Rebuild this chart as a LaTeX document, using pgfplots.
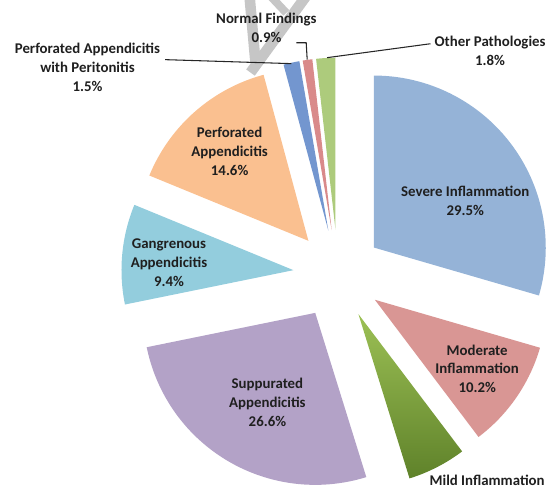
\documentclass[border=0pt]{standalone}
\usepackage{fontspec}
\setmainfont{Carlito}
\usepackage{pgfplots}
\pgfplotsset{compat=1.18}
\definecolor{cSev}{HTML}{95B3D7}
\definecolor{cMod}{HTML}{D99694}
\definecolor{cMildA}{HTML}{9CC055}
\definecolor{cMildB}{HTML}{5F822A}
\definecolor{cSup}{HTML}{B3A2C7}
\definecolor{cGan}{HTML}{93CDDD}
\definecolor{cPerf}{HTML}{FAC090}
\definecolor{cPP}{HTML}{7396CF}
\definecolor{cNorm}{HTML}{D98A8A}
\definecolor{cOth}{HTML}{ADCB7C}
\definecolor{wm}{HTML}{C6C6C6}
\tikzset{
  sSev/.style={fill=cSev},
  sMod/.style={fill=cMod},
  sMild/.style={top color=cMildA,bottom color=cMildB},
  sSup/.style={fill=cSup},
  sGan/.style={fill=cGan},
  sPerf/.style={fill=cPerf},
  sPP/.style={fill=cPP},
  sNorm/.style={fill=cNorm},
  sOth/.style={fill=cOth},
  lab/.style={font=\bfseries\fontsize{11.2}{14.2}\selectfont, align=center, text=black!88},
}
\begin{document}
\begin{tikzpicture}
\begin{axis}[width=414pt,height=368.25pt,scale only axis,
  xmin=0,xmax=552,ymin=0,ymax=491,hide axis,clip=false]
\pgfplotsextra{
  \path (axis cs:0,0) rectangle (axis cs:552,491);
  \begin{scope}
    \clip (axis cs:0,0) rectangle (axis cs:552,491);
    \draw[wm, line width=8pt] (axis cs:251,495) -- (axis cs:257,428);
    \draw[wm, line width=8pt] (axis cs:252,418) -- (axis cs:308,495);
    \draw[wm, line width=6pt] (axis cs:272,495) -- (axis cs:288,478);
  \end{scope}
  \xdef\cum{90}
  \foreach \v/\st in {29.5/sSev,10.2/sMod,5.5/sMild,26.6/sSup,9.4/sGan,14.6/sPerf,1.5/sPP,0.9/sNorm,1.8/sOth}{
    \pgfmathsetmacro\s{\cum}
    \pgfmathsetmacro\e{\cum-3.6*\v}
    \pgfmathsetmacro\m{(\s+\e)/2}
    \path[\st, shift={(axis cs:340,215)}] (\m:33.75pt) -- ++(\s:129.75pt)
      arc[start angle=\s, end angle=\e, radius=129.75pt] -- cycle;
    \xdef\cum{\e}
  }
  \draw[black!85, line width=0.8pt] (axis cs:166,431) -- (axis cs:293,427);
  \draw[black!85, line width=0.8pt] (axis cs:298,448) -- (axis cs:308,448) -- (axis cs:309,431);
  \draw[black!85, line width=0.8pt] (axis cs:433,447) -- (axis cs:329,433);
  \node[lab] at (axis cs:468,289) {Severe Inflammation\\29.5\%};
  \node[lab] at (axis cs:480,120) {Moderate\\Inflammation\\10.2\%};
  \node[lab] at (axis cs:490,8) {Mild Inflammation};
  \node[lab] at (axis cs:269,86) {Suppurated\\Appendicitis\\26.6\%};
  \node[lab] at (axis cs:170,227) {Gangrenous\\Appendicitis\\9.4\%};
  \node[lab] at (axis cs:231,339) {Perforated\\Appendicitis\\14.6\%};
  \node[lab] at (axis cs:88,423) {Perforated Appendicitis\\with Peritonitis\\1.5\%};
  \node[lab] at (axis cs:268,463) {Normal Findings\\0.9\%};
  \node[lab] at (axis cs:493,440) {Other Pathologies\\1.8\%};
}
\end{axis}
\end{tikzpicture}
\end{document}
